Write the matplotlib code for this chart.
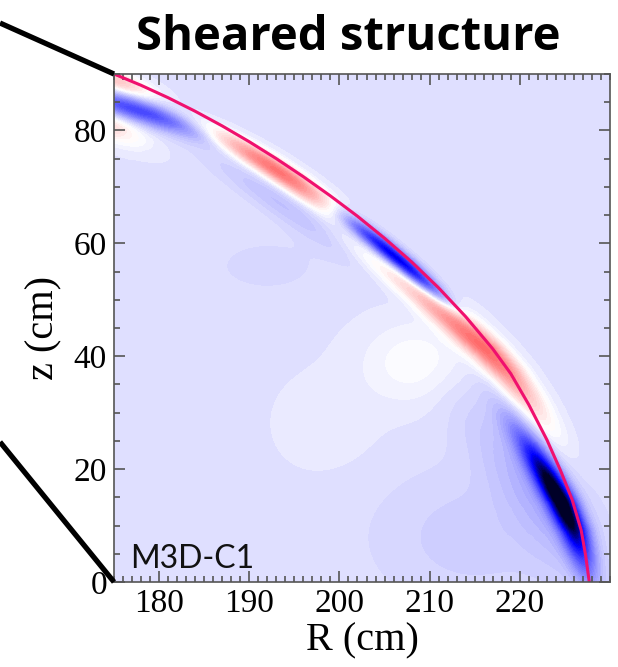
import numpy as np
import matplotlib
matplotlib.use("Agg")
import matplotlib.pyplot as plt
from matplotlib.colors import LinearSegmentedColormap
from matplotlib.lines import Line2D
from matplotlib.ticker import MultipleLocator

# plasma boundary (R, z) in cm
edge_R = [175.0, 178.0, 181.0, 184.0, 187.0, 190.0, 193.0, 196.0, 199.0, 202.0, 205.0, 208.0,
          211.0, 214.0, 217.0, 219.0, 221.0, 223.0, 224.5, 225.8, 226.8, 227.3, 227.7]
edge_z = [90.0, 88.0, 85.8, 83.4, 80.8, 78.0, 75.0, 71.8, 68.4, 64.8, 60.9, 56.7,
          52.1, 47.0, 41.3, 36.9, 31.4, 25.2, 19.8, 14.6, 9.2, 4.7, 0.0]

# perturbation bands along the edge: position s (cm along edge), spread,
# depth inside the edge d (cm), drift of d with s, thickness, amplitude
band_s = [1.0, 6.0, 4.0, 26.0, 30.0, 46.0, 62.0, 93.0, 90.0]
band_ss = [3.0, 6.0, 4.0, 8.0, 8.0, 8.0, 10.0, 8.0, 12.0]
band_d = [0.8, 3.8, 8.0, 1.4, 5.0, 1.0, 1.0, 1.3, 3.5]
band_tilt = [0.0, -0.15, 0.0, 0.0, 0.0, -0.02, -0.10, -0.09, -0.12]
band_sd = [1.0, 1.4, 1.5, 1.0, 1.5, 0.9, 1.2, 1.1, 3.0]
band_amp = [0.25, -0.45, 0.2, 0.55, -0.1, -0.75, 0.6, -1.0, -0.12]

# broad background patches
blob_R = [208.5, 215.0, 192.0, 199.0]
blob_z = [39.0, 8.0, 56.0, 28.0]
blob_sR = [4.0, 8.0, 5.0, 4.0]
blob_sz = [5.0, 9.0, 4.0, 6.0]
blob_amp = [0.08, -0.06, -0.03, 0.02]
base_level = -0.08

R_ticks = [180, 190, 200, 210, 220]
z_ticks = [0, 20, 40, 60, 80]


def edge_coords(R, Z):
    pts = np.column_stack([edge_R, edge_z])
    A, B = pts[:-1], pts[1:]
    seg = B - A
    seg_len = np.hypot(seg[:, 0], seg[:, 1])
    s_start = np.concatenate([[0.0], np.cumsum(seg_len)[:-1]])
    best_dist = np.full(R.shape, np.inf)
    s_out = np.zeros(R.shape)
    d_out = np.zeros(R.shape)
    for a, v, L, s0 in zip(A, seg, seg_len, s_start):
        xr, xz = R - a[0], Z - a[1]
        t = np.clip((xr * v[0] + xz * v[1]) / L**2, 0, 1)
        dist = np.hypot(xr - t * v[0], xz - t * v[1])
        cross = v[0] * xz - v[1] * xr
        closer = dist < best_dist
        best_dist = np.where(closer, dist, best_dist)
        s_out = np.where(closer, s0 + t * L, s_out)
        d_out = np.where(closer, -np.sign(cross) * dist, d_out)
    return s_out, d_out


R, Z = np.meshgrid(np.linspace(175, 230, 276), np.linspace(0, 90, 451))
S, D = edge_coords(R, Z)
field = np.full(R.shape, base_level)
for s0, ss, d0, tilt, sd, amp in zip(band_s, band_ss, band_d, band_tilt, band_sd, band_amp):
    dc = d0 + tilt * (S - s0)
    field += amp * np.exp(-0.5 * ((S - s0) / ss) ** 2) * np.exp(-0.5 * ((D - dc) / sd) ** 2)
for r0, z0, sr, sz, amp in zip(blob_R, blob_z, blob_sR, blob_sz, blob_amp):
    field += amp * np.exp(-0.5 * ((R - r0) / sr) ** 2 - 0.5 * ((Z - z0) / sz) ** 2)

cmap = LinearSegmentedColormap.from_list(
    "bwr_dark",
    [(0.0, "#000028"), (0.14, "#0000ff"), (0.5, "#ffffff"), (0.9, "#ff0000"), (1.0, "#a00000")])

fig = plt.figure(figsize=(6.18, 6.67), dpi=100)
ax = fig.add_axes([114 / 618, 1 - 582 / 667, 496 / 618, 508 / 667])
ax.contourf(R, Z, field, levels=np.linspace(-1, 1, 81), cmap=cmap, vmin=-1, vmax=1, extend="both")
ax.plot(edge_R, edge_z, color="#f0106e", lw=2.2)
ax.set_xlim(175, 230)
ax.set_ylim(0, 90)

ax.set_xticks(R_ticks)
ax.set_yticks(z_ticks)
ax.xaxis.set_minor_locator(MultipleLocator(1))
ax.yaxis.set_minor_locator(MultipleLocator(5))
ax.tick_params(which="both", direction="in", top=True, right=True, color="#555555", width=1.2)
ax.tick_params(which="major", length=8, labelsize=24, pad=5)
ax.tick_params(which="minor", length=4)
for sp in ax.spines.values():
    sp.set_color("#555555")
    sp.set_linewidth(1.2)
for lab in ax.get_xticklabels() + ax.get_yticklabels():
    lab.set_family("Liberation Serif")

ax.set_xlabel("R (cm)", family="Liberation Serif", fontsize=29, labelpad=2)
ax.set_ylabel("z (cm)", family="Liberation Serif", fontsize=29, labelpad=8)
ax.text(176.8, 2.4, "M3D-C1", family="Lato", fontsize=23, color="#111111")

fig.text(348 / 618, 1 - 37 / 667, "Sheared structure", family="Open Sans", fontweight="bold",
         fontsize=34, ha="center", va="center")

# zoom lines from the left edge
fig.add_artist(Line2D([0, 114 / 618], [1 - 23 / 667, 1 - 74 / 667], color="black", lw=3.8,
                      transform=fig.transFigure, solid_capstyle="butt"))
fig.add_artist(Line2D([0, 114 / 618], [1 - 442 / 667, 1 - 582 / 667], color="black", lw=3.8,
                      transform=fig.transFigure, solid_capstyle="butt"))

fig.savefig("out.png", dpi=100)
